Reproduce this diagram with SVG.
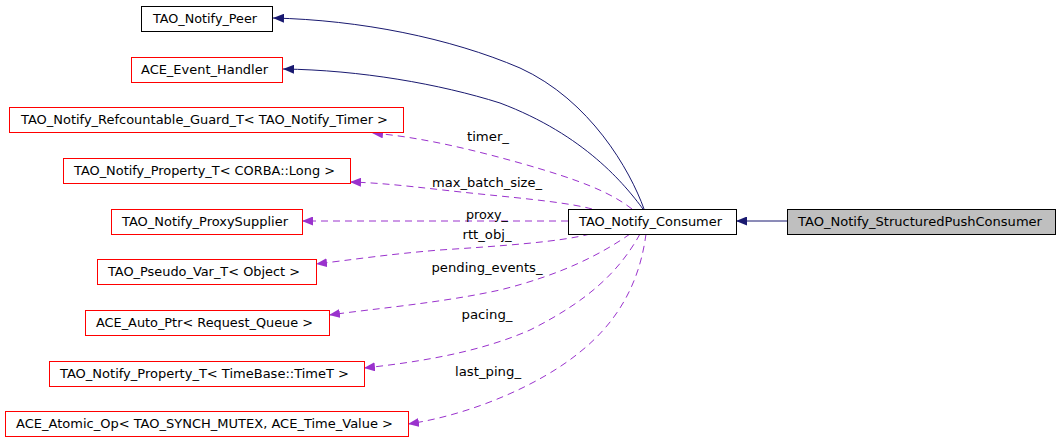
<svg xmlns="http://www.w3.org/2000/svg" width="1061" height="443" viewBox="0 0 1061 443">
<style>
.n rect{fill:#fff;stroke-width:1}
.r rect{stroke:#ff0000}
.b rect{stroke:#000}
text{font-family:"DejaVu Sans","Liberation Sans",sans-serif;font-size:12.5px;fill:#000}
.n text{text-anchor:start}
.lbl{text-anchor:middle}
.inh{fill:none;stroke:#191970;stroke-width:1}
.use{fill:none;stroke:#9a32cd;stroke-width:1;stroke-dasharray:7,5}
</style>
<defs>
<marker id="an" markerWidth="12" markerHeight="9" refX="11" refY="4.5" orient="auto" markerUnits="userSpaceOnUse"><path d="M0,0 L11,4.5 L0,9 z" fill="#191970"/></marker>
<marker id="ap" markerWidth="12" markerHeight="9" refX="11" refY="4.5" orient="auto" markerUnits="userSpaceOnUse"><path d="M0,0 L11,4.5 L0,9 z" fill="#9a32cd"/></marker>
</defs>
<g id="edges">
<path class="inh" marker-end="url(#an)" d="M644,209 C630,170 590,100 520,68 C450,38 360,20 273,18"/>
<path class="inh" marker-end="url(#an)" d="M643,209 C625,185 585,135 500,103 C440,84 360,70 283,69"/>
<path class="inh" marker-end="url(#an)" d="M787,221 L736,221"/>
<path class="use" marker-end="url(#ap)" d="M632,209 C610,192 580,180 520,163 C470,149 420,137 372,133"/>
<path class="use" marker-end="url(#ap)" d="M592,209 C570,203 530,199 480,194 C430,189 390,183 350,182"/>
<path class="use" marker-end="url(#ap)" d="M568,221 L302,221"/>
<path class="use" marker-end="url(#ap)" d="M590,234 C560,242 500,246 440,250 C390,254 350,260 316,264"/>
<path class="use" marker-end="url(#ap)" d="M630,234 C600,255 560,275 500,290 C440,303 380,308 329,315"/>
<path class="use" marker-end="url(#ap)" d="M640,234 C620,270 590,300 530,330 C480,352 420,362 364,368"/>
<path class="use" marker-end="url(#ap)" d="M646,234 C640,280 620,320 580,352 C540,385 470,415 408,424"/>
<text class="lbl" x="488" y="141" textLength="42" lengthAdjust="spacingAndGlyphs">timer_</text>
<text class="lbl" x="487" y="187" textLength="110" lengthAdjust="spacingAndGlyphs">max_batch_size_</text>
<text class="lbl" x="487" y="219" textLength="42" lengthAdjust="spacingAndGlyphs">proxy_</text>
<text class="lbl" x="487" y="239" textLength="49" lengthAdjust="spacingAndGlyphs">rtt_obj_</text>
<text class="lbl" x="487" y="272" textLength="111" lengthAdjust="spacingAndGlyphs">pending_events_</text>
<text class="lbl" x="487" y="319" textLength="51" lengthAdjust="spacingAndGlyphs">pacing_</text>
<text class="lbl" x="488" y="376" textLength="66" lengthAdjust="spacingAndGlyphs">last_ping_</text>
</g>
<g id="peer" class="n b"><rect x="141.5" y="6.5" width="131" height="25"/><text x="153" y="23" textLength="104" lengthAdjust="spacingAndGlyphs">TAO_Notify_Peer</text></g>
<g id="event_handler" class="n r"><rect x="131.5" y="57.5" width="151" height="25"/><text x="141" y="74" textLength="127" lengthAdjust="spacingAndGlyphs">ACE_Event_Handler</text></g>
<g id="refguard" class="n r"><rect x="9.5" y="107.5" width="394" height="25"/><text x="21" y="124" textLength="367" lengthAdjust="spacingAndGlyphs">TAO_Notify_Refcountable_Guard_T&lt; TAO_Notify_Timer &gt;</text></g>
<g id="prop_long" class="n r"><rect x="63.5" y="158.5" width="287" height="25"/><text x="74" y="175" textLength="261" lengthAdjust="spacingAndGlyphs">TAO_Notify_Property_T&lt; CORBA::Long &gt;</text></g>
<g id="proxysupplier" class="n r"><rect x="111.5" y="209.5" width="191" height="25"/><text x="122" y="226" textLength="166" lengthAdjust="spacingAndGlyphs">TAO_Notify_ProxySupplier</text></g>
<g id="pseudovar" class="n r"><rect x="97.5" y="259.5" width="219" height="25"/><text x="108" y="276" textLength="192" lengthAdjust="spacingAndGlyphs">TAO_Pseudo_Var_T&lt; Object &gt;</text></g>
<g id="autoptr" class="n r"><rect x="85.5" y="310.5" width="244" height="25"/><text x="96" y="327" textLength="217" lengthAdjust="spacingAndGlyphs">ACE_Auto_Ptr&lt; Request_Queue &gt;</text></g>
<g id="prop_timet" class="n r"><rect x="49.5" y="361.5" width="315" height="25"/><text x="60" y="378" textLength="289" lengthAdjust="spacingAndGlyphs">TAO_Notify_Property_T&lt; TimeBase::TimeT &gt;</text></g>
<g id="atomicop" class="n r"><rect x="5.5" y="411.5" width="403" height="25"/><text x="16" y="428" textLength="377" lengthAdjust="spacingAndGlyphs">ACE_Atomic_Op&lt; TAO_SYNCH_MUTEX, ACE_Time_Value &gt;</text></g>
<g id="consumer" class="n b"><rect x="568.5" y="209.5" width="168" height="25"/><text x="579" y="226" textLength="143" lengthAdjust="spacingAndGlyphs">TAO_Notify_Consumer</text></g>
<g id="structuredpushconsumer" class="n b"><rect x="787.5" y="209.5" width="268" height="25" style="fill:#bfbfbf"/><text x="798" y="226" textLength="244" lengthAdjust="spacingAndGlyphs">TAO_Notify_StructuredPushConsumer</text></g>
</svg>
